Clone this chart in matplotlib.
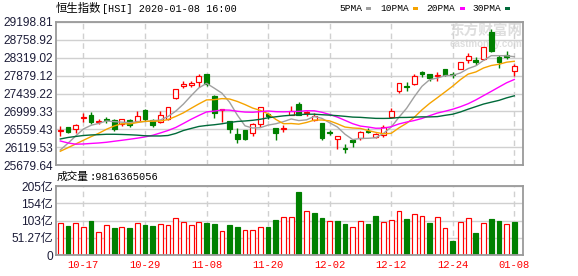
import numpy as np
import matplotlib
matplotlib.use('Agg')
import matplotlib.pyplot as plt
from matplotlib.patches import Rectangle

plt.rcParams['font.family'] = ['Liberation Sans', 'Noto Sans CJK SC']

# ---------------- data ----------------
dates = ['10-14', '10-15', '10-16', '10-17', '10-18', '10-21', '10-22', '10-23', '10-24', '10-25',
         '10-28', '10-29', '10-30', '10-31', '11-01', '11-04', '11-05', '11-06', '11-07', '11-08',
         '11-11', '11-12', '11-13', '11-14', '11-15', '11-18', '11-19', '11-20', '11-21', '11-22',
         '11-25', '11-26', '11-27', '11-28', '11-29', '12-02', '12-03', '12-04', '12-05', '12-06',
         '12-09', '12-10', '12-11', '12-12', '12-13', '12-16', '12-17', '12-18', '12-19', '12-20',
         '12-23', '12-24', '12-27', '12-30', '12-31', '01-02', '01-03', '01-06', '01-07', '01-08']

opens = [26509, 26615, 26574, 26837, 26911, 26739, 26812, 26788, 26682, 26788,
         26771, 27034, 26788, 26746, 26805, 27322, 27629, 27646, 27715, 27912,
         27378, 27034, 26763, 26443, 26542, 26460, 26682, 26928, 26583, 26566,
         26903, 27189, 26953, 26788, 26706, 26484, 26320, 26099, 26296, 26352,
         26525, 26370, 26419, 26854, 27509, 27617, 27666, 27969, 27919, 27870,
         28035, 27907, 28035, 28271, 28271, 28281, 28953, 28330, 28395, 27993]
highs = [26640, 26615, 26689, 26967, 26992, 26812, 26853, 26812, 26812, 26805,
         27017, 27051, 26820, 27017, 27100, 27550, 27740, 27755, 27919, 27919,
         27395, 27066, 26763, 26583, 26542, 26721, 27115, 26967, 26583, 26665,
         27132, 27231, 27017, 26967, 26706, 26542, 26395, 26197, 26296, 26525,
         26583, 26460, 26657, 27076, 27707, 27723, 27919, 27993, 27930, 27969,
         28040, 27969, 28220, 28443, 28329, 28580, 29034, 28378, 28493, 28165]
lows = [26394, 26460, 26460, 26739, 26689, 26689, 26706, 26517, 26648, 26623,
        26763, 26755, 26623, 26721, 26795, 27310, 27583, 27591, 27591, 27631,
        26844, 26746, 26475, 26214, 26296, 26394, 26623, 26805, 26296, 26500,
        26900, 26900, 26886, 26771, 26296, 26411, 26067, 25983, 26131, 26296,
        26460, 26337, 26378, 26850, 27445, 27501, 27649, 27838, 27755, 27755,
        27870, 27821, 28030, 28197, 28134, 28275, 28461, 28067, 28281, 27870]
closes = [26534, 26492, 26657, 26869, 26731, 26771, 26788, 26574, 26805, 26672,
          26886, 26805, 26665, 26911, 27100, 27543, 27675, 27690, 27878, 27661,
          26953, 27058, 26566, 26313, 26328, 26682, 27100, 26886, 26475, 26591,
          27009, 26903, 26977, 26894, 26353, 26467, 26387, 26081, 26239, 26493,
          26486, 26451, 26623, 27009, 27691, 27600, 27870, 27912, 27829, 27885,
          27905, 27895, 28215, 28362, 28222, 28576, 28478, 28215, 28345, 28109]

# moving-average values before a full window is available in the shown range
ma5_head = [26050, 26215, 26394, 26566]
ma10_head = [26018, 26106, 26197, 26288, 26377, 26461, 26559, 26640, 26697]
ma20_head = [26271, 26222, 26192, 26197, 26210, 26222, 26239, 26264, 26288, 26313,
             26340, 26370, 26411, 26468, 26529, 26603, 26702, 26805, 26898]
ma30_head = [26320, 26357, 26382, 26406, 26419, 26426, 26436, 26436, 26431, 26424,
             26414, 26399, 26394, 26394, 26406, 26456, 26529, 26579, 26628, 26652,
             26670, 26694, 26726, 26751, 26763, 26780, 26805, 26842, 26866]

# volume in 亿 (1e8)
last_volume = 9816365056
volumes = [95.6, 84.8, 95.6, 83.8, 99.6, 69.0, 89.7, 78.9, 83.8, 78.9,
           95.6, 87.7, 84.8, 92.7, 89.7, 109.4, 98.6, 89.7, 98.6, 93.7,
           90.7, 72.0, 87.7, 81.8, 74.9, 74.9, 83.8, 81.8, 105.5, 113.4,
           113.4, 188.3, 131.0, 126.0, 111.4, 101.5, 102.5, 90.7, 83.8, 101.5,
           90.7, 117.3, 98.6, 104.5, 131.0, 108.4, 122.3, 116.3, 93.7, 113.4,
           80.8, 40.4, 98.6, 109.4, 64.0, 95.6, 108.4, 102.5, 92.7, 98.16]
first_volume_up = True

price_ticks = [25679.64, 26119.53, 26559.43, 26999.33, 27439.22,
               27879.12, 28319.02, 28758.92, 29198.81]
vol_ticks = [0, 51.27, 102.54, 153.81, 205.08]
vol_tick_labels = ['0', '51.27亿', '103亿', '154亿', '205亿']
date_label_step = 8
date_label_first = 3

ma_names = ['5PMA', '10PMA', '20PMA', '30PMA']
ma_windows = [5, 10, 20, 30]
ma_heads = [ma5_head, ma10_head, ma20_head, ma30_head]
ma_colors = ['#a0a0a0', '#f5a300', '#ff00ff', '#006a3a']

title_cn = '恒生指数'
title_rest = '[HSI] 2020-01-08 16:00'

# ---------------- styles ----------------
RED = '#ff0000'
GREEN = '#008000'
GRID = '#d0d0d0'
SPINE = '#9a9a9a'
TXT = '#1c1c38'

O = np.array(opens, float)
H = np.array(highs, float)
L = np.array(lows, float)
C = np.array(closes, float)
V = np.array(volumes, float)
n = len(C)
x = np.arange(n)

W, Hh = 578, 276
fig = plt.figure(figsize=(W / 100, Hh / 100), dpi=100)
ax = fig.add_axes([56 / W, 1 - 165 / Hh, 466.7 / W, 143 / Hh])
axv = fig.add_axes([56 / W, 1 - 255 / Hh, 466.7 / W, 69 / Hh])

xlim = (-0.56, n - 1 + 1.09)
for a in (ax, axv):
    a.set_xlim(*xlim)
    for s in a.spines.values():
        s.set_color(SPINE)
        s.set_linewidth(1.3)
        s.set_zorder(6)
    a.set_xticks(x[date_label_first::date_label_step])
    a.xaxis.grid(True, color=GRID, linestyle=(0, (4, 3)), linewidth=1.0)
    a.yaxis.grid(True, color=GRID, linestyle='-', linewidth=1.0)
    a.set_axisbelow(True)
    a.tick_params(length=0)
    a.set_facecolor('none')

# ----- candles -----
up = C >= O
body_lo = np.minimum(O, C)
body_h = np.maximum(np.abs(C - O), 6)
ax.vlines(x, L, H, colors=np.where(up, RED, GREEN), linewidth=1.0, zorder=2)
ax.bar(x[up], body_h[up], bottom=body_lo[up], width=0.62, facecolor='white',
       edgecolor=RED, linewidth=0.85, zorder=3)
ax.bar(x[~up], body_h[~up], bottom=body_lo[~up], width=0.62, facecolor=GREEN,
       edgecolor=GREEN, linewidth=0.85, zorder=3)

# ----- moving averages -----
for win, head, col in zip(ma_windows, ma_heads, ma_colors):
    tail = np.convolve(C, np.ones(win) / win, mode='valid')
    ma = np.concatenate([np.array(head, float), tail])
    ax.plot(x, ma, color=col, linewidth=1.0, zorder=4)

ax.set_ylim(price_ticks[0], price_ticks[-1])
ax.set_yticks(price_ticks)
ax.set_yticklabels([f'{v:.2f}' for v in price_ticks], fontsize=8.6, color=TXT,
                   family='Liberation Sans')
ax.tick_params(axis='y', pad=2)
ax.set_xticklabels([])

# ----- volume -----
vup = np.concatenate([[first_volume_up], np.diff(C) >= 0])
axv.bar(x[vup], V[vup], width=0.62, facecolor='white', edgecolor=RED, linewidth=0.85, zorder=3)
axv.bar(x[~vup], V[~vup], width=0.62, facecolor=GREEN, edgecolor=GREEN, linewidth=0.85, zorder=3)
axv.set_ylim(vol_ticks[0], vol_ticks[-1])
axv.set_yticks(vol_ticks)
axv.set_yticklabels(vol_tick_labels, fontsize=8.6, color=TXT)
axv.tick_params(axis='y', pad=2)
axv.set_xticklabels([dates[i] for i in x[date_label_first::date_label_step]],
                    fontsize=7.6, color=RED, family='Liberation Mono')
axv.tick_params(axis='x', pad=3.5)

# ----- texts -----
fig.text(56 / W, 1 - 8.5 / Hh, title_cn, family=['Noto Sans CJK SC'], fontsize=8.2,
         va='center', ha='left', color='black')
fig.text(101.5 / W, 1 - 8.5 / Hh, title_rest, family='Liberation Mono', fontsize=7.3,
         va='center', ha='left', color='black')

fig.text(57 / W, 1 - 176.7 / Hh, '成交量', family=['Noto Sans CJK SC'], fontsize=7.7,
         va='center', ha='left', color='black')
fig.text(89.5 / W, 1 - 176.7 / Hh, f':{last_volume}', family='Liberation Mono', fontsize=7.5,
         va='center', ha='left', color='black')

leg_text_x = [339, 380, 426, 472]
leg_box_x = [366, 413, 460, 505]
for name, col, tx, bx in zip(ma_names, ma_colors, leg_text_x, leg_box_x):
    fig.text(tx / W, 1 - 8.5 / Hh, name, family='Liberation Mono', fontsize=6.8,
             va='center', ha='left', color='black')
    fig.add_artist(Rectangle((bx / W, 1 - 10 / Hh), 5 / W, 3 / Hh, transform=fig.transFigure,
                             facecolor=col, edgecolor='none'))

# watermark
fig.text(486 / W, 1 - 31 / Hh, '东方财富网', family=['Noto Sans CJK SC'], fontsize=10.5,
         fontweight='bold', color='#dedede', ha='center', va='center', zorder=-1)
fig.text(486 / W, 1 - 44 / Hh, 'eastmoney.com', family='Liberation Sans', fontsize=7,
         fontweight='bold', color='#dedede', ha='center', va='center', zorder=-1)

fig.savefig('out.png', dpi=100, facecolor='white')
